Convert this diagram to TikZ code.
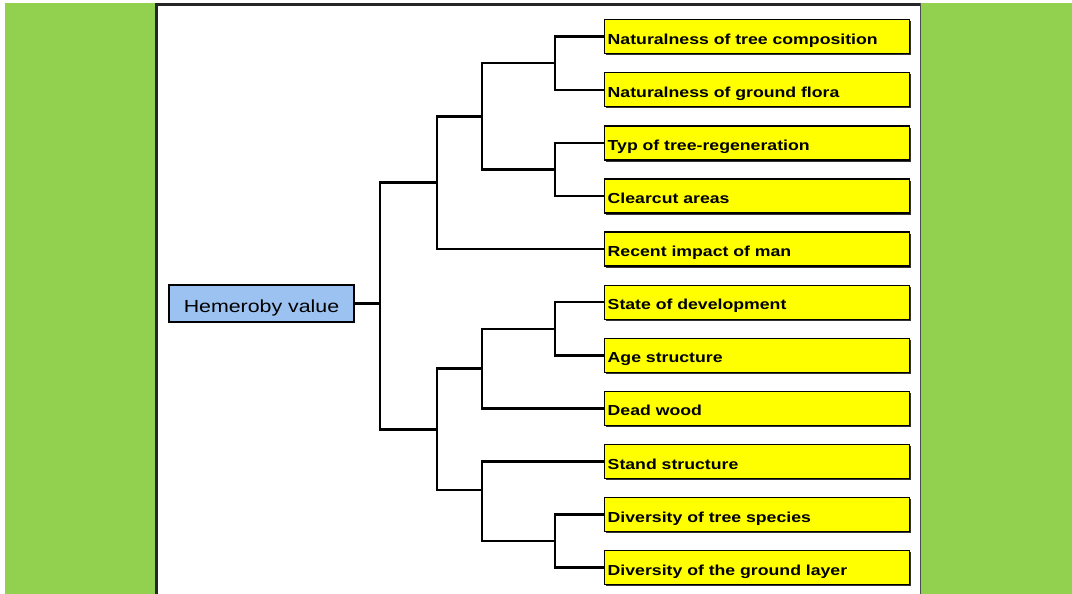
\documentclass[tikz,border=0pt]{standalone}
\usepackage{fontspec}
\setmainfont{Liberation Sans}
\newfontfamily\diagfont{Liberation Sans}[FakeStretch=1.22]
\usetikzlibrary{shadows}
\definecolor{bggreen}{RGB}{146,208,80}
\definecolor{leafyellow}{RGB}{255,255,0}
\definecolor{rootblue}{RGB}{155,194,240}
\tikzset{
  leaf/.style={draw=black, line width=1.4pt, fill=leafyellow, anchor=north west,
    minimum width=305pt, minimum height=34pt, text width=299pt, inner xsep=3pt, inner ysep=0pt,
    text height=15pt, text depth=0pt,
    align=left, font=\diagfont\bfseries\fontsize{14.5}{16}\selectfont,
    drop shadow={shadow xshift=1.6pt, shadow yshift=-1.6pt, fill=black!80, opacity=1}},
  rootbox/.style={draw=black, line width=2pt, fill=rootblue, anchor=north west,
    minimum width=185pt, minimum height=37pt, inner sep=0pt,
    text height=17pt, text depth=0pt,
    font=\diagfont\fontsize{17.5}{19}\selectfont},
  conn/.style={draw=black, line width=2.5pt, line join=miter}
}
\begin{document}
\begin{tikzpicture}[x=1pt,y=-1pt]
\useasboundingbox (0,0) rectangle (1072,594);
\fill[white] (0,0) rectangle (1072,594);
\fill[bggreen] (5,3) rectangle (1072,594);
\fill[white] (155,3) rectangle (920,594);
\draw[line width=3pt, black!85] (156,594) -- (156,4.5) -- (920,4.5);
\draw[line width=1pt, black!70] (920,3) -- (920,594);

\node[rootbox] (hv) at (168,284) {Hemeroby value};

\node[leaf] (n1) at (604,19.0) {Naturalness of tree composition};
\node[leaf] (n2) at (604,72.1) {Naturalness of ground flora};
\node[leaf] (n3) at (604,125.2) {Typ of tree-regeneration};
\node[leaf] (n4) at (604,178.3) {Clearcut areas};
\node[leaf] (n5) at (604,231.4) {Recent impact of man};
\node[leaf] (n6) at (604,284.5) {State of development};
\node[leaf] (n7) at (604,337.6) {Age structure};
\node[leaf] (n8) at (604,390.7) {Dead wood};
\node[leaf] (n9) at (604,443.8) {Stand structure};
\node[leaf] (n10) at (604,496.9) {Diversity of tree species};
\node[leaf] (n11) at (604,550.0) {Diversity of the ground layer};

% junction coordinates
\path (n1.west) -- (n2.west) coordinate[pos=.5] (Am);
\coordinate (A) at (555,0 |- Am);
\path (n3.west) -- (n4.west) coordinate[pos=.5] (Bm);
\coordinate (B) at (555,0 |- Bm);
\path (A) -- (B) coordinate[pos=.5] (Cm);
\coordinate (C) at (482,0 |- Cm);
\path (C) -- (n5.west) coordinate[pos=.5] (Dm);
\coordinate (D) at (437,0 |- Dm);

\path (n6.west) -- (n7.west) coordinate[pos=.5] (Em);
\coordinate (E) at (555,0 |- Em);
\path (E) -- (n8.west) coordinate[pos=.5] (Fm);
\coordinate (F) at (482,0 |- Fm);
\path (n10.west) -- (n11.west) coordinate[pos=.5] (Gm);
\coordinate (G) at (555,0 |- Gm);
\coordinate (H) at (482,490);
\path (F) -- (H) coordinate[pos=.5] (Im);
\coordinate (I) at (437,0 |- Im);
\coordinate (R) at (380,0 |- hv.east);

\draw[conn] (n1.west) -| (A) |- (n2.west);
\draw[conn] (n3.west) -| (B) |- (n4.west);
\draw[conn] (A) -| (C) |- (B);
\draw[conn] (C) -| (D) |- (n5.west);
\draw[conn] (n6.west) -| (E) |- (n7.west);
\draw[conn] (E) -| (F) |- (n8.west);
\draw[conn] (n10.west) -| (G) |- (n11.west);
\draw[conn] (n9.west) -| (H) |- (G);
\draw[conn] (F) -| (I) |- (H);
\draw[conn] (D) -| (R) |- (I);
\draw[conn] (hv.east) -- (R);
\end{tikzpicture}
\end{document}
